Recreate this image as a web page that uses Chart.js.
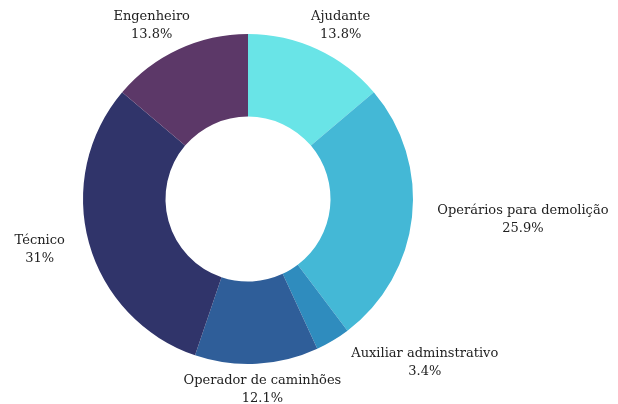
<!DOCTYPE html>
<html>
<head>
<meta charset="utf-8">
<script src="https://cdn.jsdelivr.net/npm/chart.js@4"></script>
<style>
  body { margin: 0; background: #fff; }
  #wrap { width: 618px; height: 404px; }
</style>
</head>
<body>
<div id="wrap"><canvas id="cargos"></canvas></div>
<script>
const cargos = ["Ajudante", "Operários para demolição", "Auxiliar adminstrativo", "Operador de caminhões", "Técnico", "Engenheiro"];
const percentual = [13.8, 25.9, 3.4, 12.1, 31, 13.8];
const cores = ["#69E4E7", "#44B8D6", "#2F8CBE", "#2F5E99", "#30346A", "#5C3868"];

const fonte = "13px 'DejaVu Serif'";

// desenha os rótulos fora das fatias, empurrando os que se sobrepõem
const rotulos = {
  id: "rotulos",
  afterDraw(chart) {
    const ctx = chart.ctx;
    const meta = chart.getDatasetMeta(0);
    ctx.save();
    ctx.font = fonte;
    ctx.fillStyle = "#222";
    ctx.textAlign = "center";
    ctx.textBaseline = "middle";
    const caixas = meta.data.map((arc, i) => {
      const p = arc.getProps(["x", "y", "startAngle", "endAngle", "outerRadius"], true);
      const meio = (p.startAngle + p.endAngle) / 2;
      const cos = Math.cos(meio), sin = Math.sin(meio);
      const ax = p.x + cos * (p.outerRadius + 26);
      const ay = p.y + sin * (p.outerRadius + 8);
      const linha1 = cargos[i];
      const linha2 = percentual[i] + "%";
      const w = Math.max(ctx.measureText(linha1).width, ctx.measureText(linha2).width);
      const h = 36;
      return { linha1, linha2, w, h, cx: ax + cos * w / 2, cy: ay + sin * h / 2 };
    });
    for (let i = 0; i < caixas.length; i++) {
      for (let j = 0; j < caixas.length; j++) {
        if (i === j) continue;
        const a = caixas[i], b = caixas[j];
        if (Math.abs(a.cy - b.cy) >= (a.h + b.h) / 2) continue;
        if (a.cx <= b.cx) continue;
        const minimo = (a.w + b.w) / 2 + 10;
        if (a.cx - b.cx < minimo) a.cx = b.cx + minimo;
      }
    }
    caixas.forEach((c) => {
      ctx.fillText(c.linha1, c.cx, c.cy - 9);
      ctx.fillText(c.linha2, c.cx, c.cy + 9);
    });
    ctx.restore();
  },
};

new Chart(document.getElementById("cargos"), {
  type: "doughnut",
  data: {
    labels: cargos,
    datasets: [
      {
        data: percentual,
        backgroundColor: cores,
        borderWidth: 0,
      },
    ],
  },
  options: {
    responsive: true,
    maintainAspectRatio: false,
    animation: false,
    cutout: "50%",
    layout: {
      padding: { left: 83, right: 205, top: 34, bottom: 40 },
    },
    plugins: {
      legend: { display: false },
      tooltip: { enabled: false },
    },
  },
  plugins: [rotulos],
});
</script>
</body>
</html>
